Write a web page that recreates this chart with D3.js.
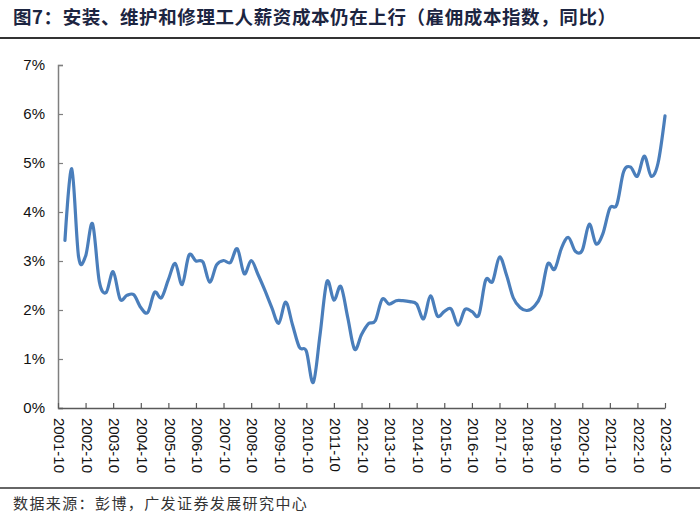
<!DOCTYPE html>
<html>
<head>
<meta charset="utf-8">
<script src="https://cdn.jsdelivr.net/npm/d3@7"></script>
<style>
  html, body { margin: 0; padding: 0; background: #fff; }
  svg { display: block; }
</style>
</head>
<body>
<svg id="chart" width="700" height="522"></svg>
<script>
// ---- data ----
const titleText = "图7：安装、维护和修理工人薪资成本仍在上行（雇佣成本指数，同比）";
const sourceText = "数据来源：彭博，广发证券发展研究中心";
const startDate = "2002-01";   // first quarterly observation
const tickLabels = ["2001-10","2002-10","2003-10","2004-10","2005-10","2006-10","2007-10","2008-10",
  "2009-10","2010-10","2011-10","2012-10","2013-10","2014-10","2015-10","2016-10","2017-10",
  "2018-10","2019-10","2020-10","2021-10","2022-10","2023-10"];
const yTicks = [0, 1, 2, 3, 4, 5, 6, 7];
// ECI wages & salaries, installation/maintenance/repair, YoY %
const eciYoY = [
  3.42, 4.88, 3.08, 3.10, 3.76, 2.58, 2.36, 2.78, 2.22, 2.30,
  2.31, 2.05, 1.95, 2.36, 2.25, 2.62, 2.95, 2.52, 3.12, 3.00,
  2.98, 2.57, 2.92, 3.01, 2.97, 3.25, 2.74, 3.01, 2.72, 2.40,
  2.05, 1.73, 2.16, 1.70, 1.24, 1.16, 0.52, 1.50, 2.58, 2.20,
  2.48, 1.85, 1.20, 1.50, 1.72, 1.78, 2.22, 2.12, 2.19, 2.19,
  2.17, 2.12, 1.82, 2.29, 1.88, 1.97, 2.02, 1.69, 2.01, 1.97,
  1.90, 2.61, 2.58, 3.08, 2.72, 2.25, 2.05, 1.99, 2.07, 2.30,
  2.94, 2.83, 3.27, 3.48, 3.20, 3.22, 3.75, 3.35, 3.56, 4.08,
  4.15, 4.82, 4.92, 4.73, 5.14, 4.73, 5.00, 5.96
];

// ---- build ----
const parseM = d3.timeParse("%Y-%m");
const d0 = parseM(startDate);
const data = eciYoY.map((v, i) => ({ date: d3.timeMonth.offset(d0, i * 3), value: v }));
const tickDates = tickLabels.map(parseM);

const svg = d3.select("#chart");
svg.append("rect").attr("width", 700).attr("height", 522).attr("fill", "#fff");

// title
svg.append("text")
  .attr("x", 13).attr("y", 24)
  .attr("font-family", "'Noto Sans CJK SC', sans-serif")
  .attr("font-size", 18.5).attr("font-weight", 700)
  .attr("letter-spacing", 0.6)
  .attr("fill", "#1c2541")
  .text(titleText);
svg.append("line").attr("x1", 0).attr("x2", 700).attr("y1", 38).attr("y2", 38)
  .attr("stroke", "#333").attr("stroke-width", 1.8);

// scales
const x = d3.scaleTime().domain([tickDates[0], tickDates[tickDates.length - 1]]).range([58, 665]);
const y = d3.scaleLinear().domain([0, 7]).range([408, 65]);

// y axis
const yAxis = svg.append("g").attr("transform", "translate(58,0)")
  .call(d3.axisLeft(y).tickValues(yTicks).tickFormat(d => d + "%").tickSize(-5).tickPadding(13));
yAxis.select(".domain").attr("stroke", "#7f7f7f").attr("stroke-width", 1.5);
yAxis.selectAll(".tick line").attr("stroke", "#7f7f7f").attr("stroke-width", 1.2);
yAxis.selectAll("text").attr("font-family", "'Liberation Sans', Arial, sans-serif")
  .attr("font-size", 15).attr("fill", "#111");

// x axis
const xAxis = svg.append("g").attr("transform", "translate(0,408)")
  .call(d3.axisBottom(x).tickValues(tickDates).tickFormat((d, i) => tickLabels[i]).tickSize(-5).tickSizeOuter(0));
xAxis.select(".domain").attr("stroke", "#595959").attr("stroke-width", 1.5);
xAxis.selectAll(".tick line").attr("stroke", "#595959").attr("stroke-width", 1.2);
xAxis.selectAll(".tick text")
  .attr("font-family", "'Liberation Sans', Arial, sans-serif")
  .attr("font-size", 15).attr("fill", "#111")
  .attr("text-anchor", "start")
  .attr("x", 0).attr("y", 0).attr("dy", "0.35em")
  .attr("transform", "translate(1,10) rotate(90)");

// line
const line = d3.line()
  .x(d => x(d.date))
  .y(d => y(d.value))
  .curve(d3.curveCatmullRom.alpha(0));
svg.append("path").datum(data)
  .attr("d", line)
  .attr("fill", "none")
  .attr("stroke", "#4a7ebb")
  .attr("stroke-width", 3.2)
  .attr("stroke-linejoin", "round")
  .attr("stroke-linecap", "round");

// footer
svg.append("line").attr("x1", 0).attr("x2", 700).attr("y1", 488).attr("y2", 488)
  .attr("stroke", "#333").attr("stroke-width", 1.5);
svg.append("text")
  .attr("x", 13).attr("y", 509)
  .attr("font-family", "'Noto Sans CJK SC', sans-serif")
  .attr("font-size", 15).attr("letter-spacing", 1.4)
  .attr("fill", "#333")
  .text(sourceText);
</script>
</body>
</html>
